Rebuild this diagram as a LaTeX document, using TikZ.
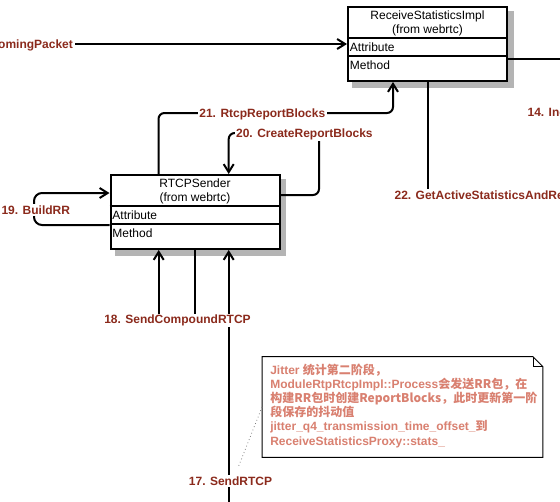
\documentclass[tikz,border=0pt]{standalone}
\usepackage{fontspec}
\setmainfont{Liberation Sans}
\newfontfamily\cjk{Noto Sans CJK SC}
\usetikzlibrary{arrows.meta,backgrounds}
\definecolor{msgred}{HTML}{8B2A1C}
\definecolor{notered}{HTML}{D98070}
\definecolor{shadowgray}{HTML}{B4B4B4}

\begin{document}
\begin{tikzpicture}[x=0.75pt,y=-0.75pt]
	\tikzset{classbox/.style={draw,line width=1.5pt,fill=white,anchor=north west,inner sep=0pt,minimum height=55.5pt}}
	\tikzset{classline/.style={line width=1.5pt}}
	\tikzset{classtitle/.style={font=\fontsize{9}{10.7}\selectfont,align=center,anchor=base,inner sep=0pt}}
	\tikzset{member/.style={font=\fontsize{9}{10.5}\selectfont,anchor=base west,inner sep=0pt}}
	\tikzset{msg/.style={line width=1.5pt,-{Straight Barb[length=6pt,width=7.5pt]}}}
	\tikzset{plainmsg/.style={line width=1.5pt}}
	\tikzset{msglabel/.style={font=\fontsize{9}{10.5}\selectfont\bfseries,text=msgred,fill=white,inner xsep=1pt,inner ysep=1pt,anchor=base}}
	\tikzset{notebox/.style={minimum width=210.3pt,minimum height=75pt,inner sep=0pt}}
	\tikzset{notetext/.style={font=\fontsize{9}{10.65}\selectfont\bfseries,text=notered,align=left,anchor=base west,inner sep=0pt}}

	% classes
	\node[classbox,minimum width=119.25pt] (rsi) at (347,6) {};
	\node[classbox,minimum width=126.75pt] (rs) at (109.5,174) {};
	\foreach \c in {rsi,rs} {
		\draw[classline] ([yshift=-24pt]\c.north west) -- ([yshift=-24pt]\c.north east);
		\draw[classline] ([yshift=-37.5pt]\c.north west) -- ([yshift=-37.5pt]\c.north east);
		\node[member] at ([xshift=2pt,yshift=-34pt]\c.north west) {Attribute};
		\node[member] at ([xshift=2pt,yshift=-47.5pt]\c.north west) {Method};
	}
	\node[classtitle] at ([yshift=-20.6pt]rsi.north) {ReceiveStatisticsImpl\\(from webrtc)};
	\node[classtitle] at ([yshift=-20.6pt]rs.north) {RTCPSender\\(from webrtc)};
	\begin{scope}[on background layer]
		\fill[white] (0,0) rectangle (560,501);
		\foreach \c in {rsi,rs}
			\fill[shadowgray] ([xshift=3.75pt,yshift=-3.75pt]\c.north west) rectangle ([xshift=4.3pt,yshift=-4.3pt]\c.south east);
	\end{scope}
	\useasboundingbox (0,0) rectangle (560,501);

	% note
	\node[notebox] (nt) at (402.5,407) {};
	\draw[line width=0.75pt] (nt.north west) -- ([xshift=-7.5pt]nt.north east) -- ([yshift=-7.5pt]nt.north east)
		-- (nt.south east) -- (nt.south west) -- cycle;
	\draw[line width=0.5pt] ([xshift=-7.5pt]nt.north east) |- ([yshift=-7.5pt]nt.north east);
	\node[notetext] (ntx) at (270,445) {Jitter \cjk{统计第二阶段，}\\
		ModuleRtpRtcpImpl::Process\cjk{会发送}RR\cjk{包，在}\\
		\cjk{构建}RR\cjk{包时创建}ReportBlocks\cjk{，此时更新第一阶}\\
		\cjk{段保存的抖动值}\\
		jitter\_q4\_transmission\_time\_offset\_\cjk{到}\\
		ReceiveStatisticsProxy::stats\_};

	% connectors
	\coordinate (p15) at (75,44);
	\coordinate (p14) at (570,59);
	\coordinate (p21a) at (158.5,113);
	\coordinate (p21b) at (393,113);
	\coordinate (p20a) at (319,195);
	\coordinate (p20b) at (228.7,133);
	\coordinate (p19a) at (34,225);
	\coordinate (p19b) at (34,193);
	\coordinate (p18) at (158.7,319);
	\coordinate (p17) at (228.7,520);
	\coordinate (p17n) at (238.3,467);
	\coordinate (p22) at (427.7,195);
	\draw[msg] (p15) -- (p15 -| rsi.west);
	\draw[plainmsg] (rsi.east |- p14) -- (p14);
	\draw[plainmsg] (rsi.south -| p22) -- (p22);
	\draw[msg,rounded corners=4.5pt] (rs.north -| p21a) |- (p21b) -- (p21b |- rsi.south);
	\draw[msg,rounded corners=4.5pt] (rs.east |- p20a) -| (p20a |- p20b) -| (rs.north -| p20b);
	\draw[msg,rounded corners=6pt] (rs.west |- p19a) -- (p19a) -- (p19b) -- (rs.west |- p19b);
	\draw[msg] (p17) -- (p17 |- rs.south);
	\draw[msg] (rs.south) |- (p18) -- (p18 |- rs.south);
	\draw[gray,line width=0.6pt,dotted] (nt.west) -- (p17n);

	% labels
	\node[msglabel,anchor=base east] (l15) at (74.5,48) {omingPacket};
	\node[msglabel,anchor=base west] (l14) at (526,116) {14. Inc};
	\node[msglabel,anchor=base west] (l22) at (393,199.3) {22. GetActiveStatisticsAndRe};
	\node[msglabel] (l21) at (262.3,117.3) {21. RtcpReportBlocks};
	\node[msglabel] (l20) at (304.4,137.6) {20. CreateReportBlocks};
	\node[msglabel] (l19) at (35.8,214.3) {19. BuildRR};
	\node[msglabel] (l18) at (177.5,323.6) {18. SendCompoundRTCP};
	\node[msglabel] (l17) at (230.5,485.3) {17. SendRTCP};
\end{tikzpicture}
\end{document}
